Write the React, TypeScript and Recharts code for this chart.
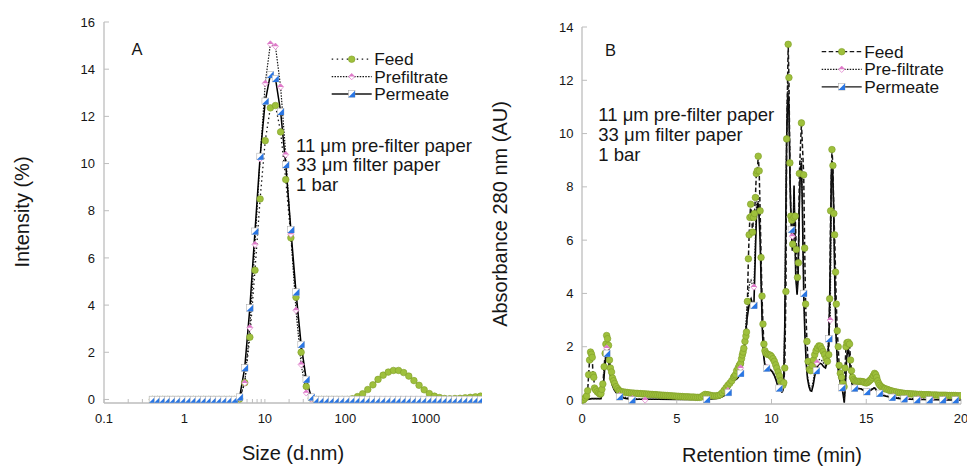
import React from 'react';
import { ComposedChart, Line, XAxis, YAxis } from 'recharts';

const FONT = '"Liberation Sans", Arial, Helvetica, sans-serif';
const GREEN = '#9ec03c';
const GREEN_EDGE = '#7f9e28';
const PINK = '#de78c8';
const BLUE = '#2a76e3';
const AXIS = '#bdbdbd';
const INK = '#161616';

// ---------------- Panel A : DLS size distribution ----------------
const sizesA = [
  0.4, 0.4632, 0.5365, 0.6213, 0.7195, 0.8332, 0.9649, 1.117, 1.294, 1.499,
  1.736, 2.01, 2.328, 2.696, 3.122, 3.615, 4.187, 4.849, 5.615, 6.503,
  7.531, 8.721, 10.1, 11.7, 13.54, 15.69, 18.17, 21.04, 24.36, 28.21,
  32.67, 37.84, 43.82, 50.75, 58.77, 68.06, 78.82, 91.28, 105.7, 122.4,
  141.8, 164.2, 190.1, 220.2, 255, 295.3, 342, 396.1, 458.7, 531.2,
  615.1, 712.4, 825, 955.4, 1106, 1281, 1484, 1718, 1990, 2305,
  2669, 3091, 3580, 4145, 4801,
];
const feedA = [
  0, 0, 0, 0, 0, 0, 0, 0, 0, 0,
  0, 0, 0, 0, 0, 0, 0, 0.02, 0.71, 2.64,
  5.48, 8.5, 10.97, 12.36, 12.46, 11.34, 9.32, 6.85, 4.33, 2.0,
  0.55, 0.05, 0, 0, 0, 0, 0, 0, 0, 0.03,
  0.12, 0.24, 0.42, 0.62, 0.85, 1.03, 1.16, 1.23, 1.23, 1.14,
  0.99, 0.8, 0.6, 0.41, 0.25, 0.14, 0.08, 0.04, 0.03, 0.04,
  0.05, 0.07, 0.09, 0.11, 0.14,
];
const prefiltrateA = [
  0, 0, 0, 0, 0, 0, 0, 0, 0, 0,
  0, 0, 0, 0, 0, 0, 0, 0.05, 0.7, 3.04,
  6.57, 10.2, 13.4, 15.07, 14.97, 13.25, 10.38, 7.0, 3.78, 1.48,
  0.28, 0.02, 0, 0, 0, 0, 0, 0, 0, 0,
  0, 0, 0, 0, 0, 0, 0, 0, 0, 0,
  0, 0, 0, 0, 0, 0, 0, 0, 0, 0,
  0, 0, 0, 0, 0,
];
const permeateA = [
  0, 0, 0, 0, 0, 0, 0, 0, 0, 0,
  0, 0, 0, 0, 0, 0, 0, 0.1, 1.34, 3.88,
  7.13, 10.3, 12.64, 13.77, 13.6, 12.2, 9.95, 7.2, 4.55, 2.33,
  0.85, 0.1, 0, 0, 0, 0, 0, 0, 0, 0,
  0, 0, 0, 0, 0, 0, 0, 0, 0, 0,
  0, 0, 0, 0, 0, 0, 0, 0, 0, 0,
  0, 0, 0, 0, 0,
];
const majorTicksAX = [0.1, 1, 10, 100, 1000];
const minorTicksAX = [
  0.2, 0.3, 0.4, 0.5, 0.6, 0.7, 0.8, 0.9,
  2, 3, 4, 5, 6, 7, 8, 9,
  20, 30, 40, 50, 60, 70, 80, 90,
  200, 300, 400, 500, 600, 700, 800, 900,
  2000, 3000, 4000,
];
const ticksAY = [0, 2, 4, 6, 8, 10, 12, 14, 16];

// ---------------- Panel B : chromatogram (time min, absorbance AU) ----------------
const feedB: [number, number][] = [
  [0, 0], [0.05, 0], [0.1, 0.02], [0.17, 0.08], [0.24, 0.15], [0.3, 0.35], [0.35, 0.95], [0.4, 1.5],
  [0.45, 1.8], [0.5, 1.72], [0.54, 1.6], [0.58, 0.95], [0.62, 0.85], [0.66, 0.45], [0.72, 0.38],
  [0.8, 0.31], [0.88, 0.26], [0.95, 0.22], [1.0, 0.24], [1.05, 0.4], [1.1, 0.6], [1.17, 1.25],
  [1.22, 1.75], [1.26, 2.1], [1.3, 2.42], [1.35, 2.3], [1.4, 2.05], [1.45, 1.5], [1.5, 1.2],
  [1.56, 1.05], [1.61, 0.82], [1.66, 0.72], [1.72, 0.62], [1.8, 0.5], [1.88, 0.42], [1.95, 0.36],
  [2.0, 0.33], [2.1, 0.31], [2.2, 0.3], [2.3, 0.29], [2.4, 0.28], [2.5, 0.27], [2.6, 0.26],
  [2.7, 0.26], [2.8, 0.25], [2.9, 0.25], [3.0, 0.24], [3.1, 0.24], [3.2, 0.23], [3.3, 0.23],
  [3.4, 0.22], [3.5, 0.22], [3.6, 0.21], [3.7, 0.21], [3.8, 0.2], [3.9, 0.2], [4.0, 0.19],
  [4.1, 0.19], [4.2, 0.18], [4.3, 0.18], [4.4, 0.17], [4.5, 0.17], [4.6, 0.16], [4.7, 0.16],
  [4.8, 0.15], [4.9, 0.15], [5.0, 0.14], [5.1, 0.14], [5.2, 0.13], [5.3, 0.13], [5.4, 0.12],
  [5.5, 0.12], [5.6, 0.12], [5.7, 0.11], [5.8, 0.11], [5.9, 0.11], [6.0, 0.1], [6.1, 0.1],
  [6.2, 0.1], [6.3, 0.11], [6.4, 0.17], [6.5, 0.21], [6.6, 0.2], [6.7, 0.19], [6.8, 0.17],
  [6.9, 0.16], [7.0, 0.15], [7.1, 0.16], [7.2, 0.17], [7.3, 0.2], [7.4, 0.27], [7.5, 0.36],
  [7.6, 0.46], [7.7, 0.55], [7.8, 0.63], [7.9, 0.72], [8.0, 0.85], [8.05, 0.9], [8.1, 0.95],
  [8.16, 1.1], [8.24, 1.2], [8.3, 1.3], [8.37, 1.38], [8.42, 1.55], [8.46, 1.69], [8.5, 1.8],
  [8.54, 1.94], [8.6, 2.2], [8.65, 2.4], [8.68, 2.55], [8.73, 3.7], [8.78, 5.3], [8.82, 6.2],
  [8.86, 6.85], [8.9, 7.35], [8.95, 6.9], [9.0, 6.3], [9.05, 6.85], [9.1, 7.0], [9.15, 7.6],
  [9.2, 8.5], [9.25, 8.6], [9.3, 9.15], [9.35, 8.6], [9.4, 7.1], [9.45, 5.35], [9.5, 3.9],
  [9.55, 2.85], [9.6, 2.1], [9.65, 1.85], [9.7, 1.76], [9.78, 1.72], [9.86, 1.7], [9.94, 1.68],
  [10.0, 1.63], [10.08, 1.55], [10.15, 1.45], [10.22, 1.32], [10.28, 1.2], [10.35, 1.05],
  [10.42, 0.9], [10.48, 0.72], [10.54, 0.6], [10.6, 0.55], [10.65, 0.65], [10.7, 1.2],
  [10.76, 4.07], [10.8, 9.8], [10.88, 13.35], [10.92, 12.1], [10.97, 8.9], [11.02, 6.9],
  [11.07, 6.75], [11.12, 5.85], [11.18, 6.85], [11.25, 6.9], [11.31, 5.65], [11.37, 4.6],
  [11.42, 5.15], [11.47, 8.5], [11.58, 10.4], [11.7, 8.45], [11.75, 5.7], [11.8, 3.6],
  [11.87, 2.2], [11.93, 1.45], [12.0, 1.15], [12.07, 1.1], [12.15, 1.3], [12.22, 1.5],
  [12.28, 1.7], [12.35, 1.85], [12.42, 1.95], [12.5, 2.03], [12.58, 2.02], [12.65, 1.92],
  [12.72, 1.82], [12.8, 1.7], [12.88, 1.55], [12.95, 1.45], [13.02, 1.7], [13.07, 3.8],
  [13.12, 7.1], [13.19, 9.4], [13.24, 8.8], [13.29, 7.0], [13.33, 6.2], [13.38, 4.8],
  [13.42, 3.6], [13.47, 2.6], [13.52, 2.0], [13.57, 1.3], [13.63, 1.0], [13.7, 0.85],
  [13.77, 0.62], [13.83, 0.5], [13.88, 1.2], [13.93, 2.0], [13.98, 2.15], [14.05, 2.17],
  [14.12, 2.1], [14.17, 1.5], [14.22, 1.1], [14.27, 0.85], [14.33, 0.76], [14.4, 0.72],
  [14.47, 0.7], [14.55, 0.7], [14.62, 0.7], [14.7, 0.7], [14.78, 0.69], [14.85, 0.68],
  [14.92, 0.66], [15.0, 0.64], [15.07, 0.66], [15.14, 0.7], [15.2, 0.74], [15.26, 0.78],
  [15.32, 0.84], [15.38, 0.92], [15.44, 1.0], [15.5, 0.95], [15.55, 0.85], [15.6, 0.72],
  [15.66, 0.62], [15.72, 0.55], [15.8, 0.5], [15.88, 0.46], [15.95, 0.43], [16.0, 0.42],
  [16.1, 0.4], [16.2, 0.37], [16.3, 0.35], [16.4, 0.33], [16.5, 0.31], [16.6, 0.3],
  [16.7, 0.28], [16.8, 0.27], [16.9, 0.26], [17.0, 0.25], [17.1, 0.24], [17.2, 0.24],
  [17.3, 0.23], [17.4, 0.23], [17.5, 0.22], [17.6, 0.22], [17.7, 0.21], [17.8, 0.21],
  [17.9, 0.21], [18.0, 0.2], [18.1, 0.2], [18.2, 0.2], [18.3, 0.2], [18.4, 0.19], [18.5, 0.19],
  [18.6, 0.19], [18.7, 0.19], [18.8, 0.18], [18.9, 0.18], [19.0, 0.18], [19.1, 0.18],
  [19.2, 0.18], [19.3, 0.17], [19.4, 0.17], [19.5, 0.17], [19.6, 0.17], [19.7, 0.17],
  [19.8, 0.16], [19.9, 0.16], [20.0, 0.16],
];

const prefiltrateB: [number, number][] = [
  [0, 0], [0.3, 0.02], [0.5, 0.05], [0.65, 0.05], [1.0, 0.05], [1.1, 0.35], [1.2, 1.4], [1.28, 1.9],
  [1.33, 1.95], [1.4, 1.65], [1.5, 1.0], [1.6, 0.6], [1.7, 0.4], [1.8, 0.3], [1.98, 0.16],
  [2.3, 0.1], [2.66, 0.05], [3.33, 0.02], [4.0, 0.03], [5.0, 0.03], [6.0, 0.03], [6.3, 0.04],
  [6.45, 0.1], [6.6, 0.08], [7.0, 0.06], [7.2, 0.08], [7.4, 0.16], [7.6, 0.27], [7.7, 0.35],
  [7.82, 0.62], [7.9, 0.9], [7.96, 0.88], [8.05, 0.8], [8.15, 0.85], [8.25, 0.95], [8.37, 1.2],
  [8.47, 1.5], [8.55, 2.0], [8.62, 2.6], [8.7, 3.4], [8.78, 4.0], [8.85, 4.4], [8.92, 4.5],
  [9.0, 4.3], [9.07, 4.24], [9.13, 5.6], [9.2, 7.2], [9.27, 7.7], [9.32, 7.5], [9.4, 6.2],
  [9.46, 4.3], [9.52, 2.7], [9.58, 1.8], [9.65, 1.35], [9.75, 1.22], [9.85, 1.18], [9.95, 1.15],
  [10.05, 1.08], [10.15, 0.95], [10.25, 0.75], [10.32, 0.58], [10.42, 0.46], [10.48, 0.38],
  [10.55, 0.32], [10.6, 0.38], [10.65, 0.95], [10.7, 3.0], [10.75, 6.8], [10.8, 10.2],
  [10.86, 12.0], [10.92, 11.4], [10.97, 8.8], [11.02, 7.0], [11.06, 6.5], [11.1, 6.15],
  [11.15, 6.6], [11.19, 7.9], [11.23, 6.4], [11.28, 4.7], [11.35, 4.1], [11.4, 4.6],
  [11.46, 7.2], [11.52, 8.8], [11.58, 9.1], [11.63, 7.4], [11.7, 4.2], [11.76, 2.6],
  [11.83, 1.5], [11.9, 0.9], [11.98, 0.6], [12.05, 0.45], [12.12, 0.45], [12.2, 0.7],
  [12.28, 1.05], [12.4, 1.4], [12.48, 1.5], [12.55, 1.52], [12.65, 1.48], [12.75, 1.38],
  [12.85, 1.3], [12.95, 1.6], [13.03, 2.5], [13.1, 3.0], [13.13, 5.5], [13.16, 8.7],
  [13.21, 9.0], [13.27, 7.6], [13.34, 4.6], [13.4, 2.6], [13.48, 1.45], [13.56, 0.95],
  [13.65, 0.62], [13.75, 0.45], [13.8, 0.2], [13.84, -0.05], [13.9, 0.65], [13.97, 1.7],
  [14.04, 2.0], [14.1, 1.75], [14.17, 1.05], [14.25, 0.62], [14.42, 0.45], [14.7, 0.44],
  [14.9, 0.37], [15.07, 0.32], [15.2, 0.36], [15.35, 0.44], [15.45, 0.47], [15.55, 0.37],
  [15.75, 0.25], [15.9, 0.19], [16.1, 0.15], [16.42, 0.12], [16.7, 0.09], [17.1, 0.06],
  [17.75, 0.04], [18.42, 0.03], [19.1, 0.02], [19.75, 0.02], [20.0, 0.02],
];

const permeateB: [number, number][] = [
  [0, 0], [0.3, 0.02], [0.5, 0.05], [0.65, 0.05], [0.8, 0.05], [1.0, 0.05], [1.1, 0.3], [1.2, 1.2],
  [1.28, 1.7], [1.33, 1.75], [1.4, 1.5], [1.5, 0.9], [1.6, 0.55], [1.7, 0.38], [1.8, 0.28],
  [1.98, 0.12], [2.3, 0.06], [2.64, 0.02], [3.0, 0.03], [3.5, 0.03], [4.0, 0.03], [5.0, 0.02],
  [6.0, 0.02], [6.3, 0.03], [6.45, 0.06], [6.58, 0.03], [6.8, 0.04], [7.0, 0.05], [7.2, 0.07],
  [7.4, 0.12], [7.6, 0.2], [7.72, 0.28], [7.82, 0.6], [7.9, 0.9], [7.96, 0.85], [8.05, 0.75],
  [8.15, 0.78], [8.25, 0.85], [8.37, 1.0], [8.47, 1.3], [8.55, 1.8], [8.62, 2.4], [8.7, 3.0],
  [8.78, 3.4], [8.85, 3.7], [8.92, 3.8], [9.0, 3.6], [9.07, 3.55], [9.13, 5.0], [9.2, 6.8],
  [9.27, 7.4], [9.32, 7.3], [9.4, 6.0], [9.46, 4.2], [9.52, 2.6], [9.58, 1.7], [9.65, 1.3],
  [9.74, 1.19], [9.85, 1.15], [9.95, 1.12], [10.05, 1.05], [10.15, 0.92], [10.25, 0.72],
  [10.32, 0.55], [10.4, 0.44], [10.48, 0.35], [10.55, 0.3], [10.6, 0.35], [10.65, 0.9],
  [10.7, 2.8], [10.75, 6.5], [10.8, 9.8], [10.86, 11.5], [10.92, 11.0], [10.97, 8.5],
  [11.02, 7.0], [11.05, 6.4], [11.1, 5.6], [11.15, 6.5], [11.19, 8.05], [11.23, 6.5],
  [11.28, 4.6], [11.35, 3.95], [11.4, 4.5], [11.46, 7.0], [11.52, 8.6], [11.58, 8.9],
  [11.63, 7.2], [11.7, 4.0], [11.76, 2.5], [11.83, 1.4], [11.9, 0.8], [11.98, 0.5],
  [12.05, 0.35], [12.12, 0.33], [12.2, 0.55], [12.28, 0.9], [12.37, 1.1], [12.45, 1.3],
  [12.55, 1.38], [12.65, 1.35], [12.75, 1.25], [12.85, 1.2], [12.95, 1.45], [13.03, 2.3],
  [13.1, 5.0], [13.16, 8.5], [13.21, 8.9], [13.27, 7.5], [13.34, 4.5], [13.4, 2.5],
  [13.48, 1.4], [13.56, 0.9], [13.65, 0.6], [13.72, 0.46], [13.78, 0.2], [13.84, -0.1],
  [13.9, 0.6], [13.97, 1.6], [14.04, 1.95], [14.1, 1.7], [14.17, 1.0], [14.25, 0.6],
  [14.38, 0.44], [14.5, 0.42], [14.7, 0.42], [14.9, 0.35], [15.03, 0.31], [15.2, 0.35],
  [15.35, 0.42], [15.45, 0.45], [15.55, 0.35], [15.7, 0.25], [15.9, 0.17], [16.1, 0.13],
  [16.37, 0.1], [16.7, 0.06], [17.0, 0.04], [17.3, 0.03], [17.67, 0.02], [18.0, 0.02],
  [18.33, 0.01], [18.7, 0.01], [19.03, 0.0], [19.4, 0.0], [19.7, 0.0], [20.0, 0.0],
];

const prefiltrateMarksB: [number, number][] = [
  [1.3, 1.95], [1.98, 0.16], [2.66, 0.05], [3.33, 0.0], [7.7, 0.35], [8.37, 1.2], [9.07, 4.24],
  [9.75, 1.22], [10.42, 0.46], [11.1, 6.15], [12.4, 1.4], [13.1, 3.0], [13.75, 0.45],
  [14.42, 0.45], [15.07, 0.32], [15.75, 0.25], [16.42, 0.12], [17.1, 0.06], [17.75, 0.04],
  [18.42, 0.03], [19.1, 0.02], [19.75, 0.02],
];
const permeateMarksB: [number, number][] = [
  [1.31, 1.75], [1.98, 0.12], [2.64, 0.0], [6.58, 0.02], [7.72, 0.28], [8.37, 1.0], [9.07, 3.55],
  [9.74, 1.19], [10.4, 0.44], [11.05, 6.4], [11.7, 4.0], [12.37, 1.1], [13.03, 2.3],
  [13.72, 0.46], [14.38, 0.44], [15.03, 0.31], [15.7, 0.25], [16.37, 0.1], [17.0, 0.04],
  [17.67, 0.0], [18.33, 0.0], [19.03, 0.0], [19.7, 0.0],
];
const ticksBX = [0, 5, 10, 15, 20];
const ticksBY = [0, 2, 4, 6, 8, 10, 12, 14];

// ---------------- markers ----------------
type P = { cx: number; cy: number };
const Circ = ({ cx, cy }: P) => (
  <circle cx={cx} cy={cy} r={3.3} fill={GREEN} stroke={GREEN_EDGE} strokeWidth={0.6} />
);
const Diam = ({ cx, cy }: P) => {
  const w = 3, h = 3.2;
  return (
    <g>
      <path d={`M${cx},${cy - h}L${cx + w},${cy}L${cx},${cy + h}L${cx - w},${cy}Z`} fill="#fff" stroke={PINK} strokeWidth={0.7} />
      <path d={`M${cx},${cy - h}L${cx + w},${cy}L${cx - w},${cy}Z`} fill={PINK} />
    </g>
  );
};
const Sq = ({ cx, cy }: P) => {
  const s = 3.3;
  return (
    <g>
      <rect x={cx - s} y={cy - s} width={2 * s} height={2 * s} fill="#fff" stroke="#a4a4a4" strokeWidth={0.5} />
      <path d={`M${cx - s},${cy + s}L${cx + s},${cy - s}L${cx + s},${cy + s}Z`} fill={BLUE} />
    </g>
  );
};
const dotOf = (Shape: (p: P) => React.ReactElement, prefix: string) => (p: any) => {
  const k = `${prefix}-${p.index}`;
  if (p.cx == null || p.cy == null || isNaN(p.cx) || isNaN(p.cy)) return <g key={k} />;
  return <g key={k}><Shape cx={p.cx} cy={p.cy} /></g>;
};

const toPts = (arr: [number, number][]) => arr.map(([t, v]) => ({ t, v }));

const dataA = sizesA.map((s, i) => ({
  size: s,
  feed: feedA[i],
  prefiltrate: prefiltrateA[i],
  permeate: permeateA[i],
}));

const tickStyle = { fill: INK, fontSize: 13 };
const noTick = () => <g />;

function LegendRow({ x, y, label, dash, Shape }: { x: number; y: number; label: string; dash?: string; Shape: (p: P) => React.ReactElement }) {
  return (
    <g>
      <line x1={x} x2={x + 40} y1={y} y2={y} stroke={INK} strokeWidth={1.3} strokeDasharray={dash} />
      <Shape cx={x + 20} cy={y} />
      <text x={x + 42.5} y={y + 6} fontSize={17.3} fill={INK}>{label}</text>
    </g>
  );
}

function PanelA() {
  const allTicks = [...majorTicksAX, ...minorTicksAX].sort((a, b) => a - b);
  return (
    <ComposedChart width={490} height={466} data={dataA} margin={{ top: 22, right: 8, bottom: 0, left: 0 }}>
      <XAxis
        dataKey="size" type="number" scale="log" domain={[0.1, 5000]} allowDataOverflow
        ticks={allTicks} interval={0}
        tickFormatter={(v: number) => (majorTicksAX.includes(v) ? String(v) : '')}
        height={63} tickSize={-4} tickMargin={15} tick={tickStyle}
        axisLine={{ stroke: AXIS, strokeWidth: 1.3 }} tickLine={{ stroke: AXIS }}
      />
      <XAxis
        xAxisId="top" orientation="top" dataKey="size" type="number" scale="log" domain={[0.1, 5000]} allowDataOverflow
        ticks={allTicks} interval={0} height={0} tickSize={-4} tick={noTick}
        axisLine={{ stroke: AXIS, strokeWidth: 1.3 }} tickLine={{ stroke: AXIS }}
      />
      <YAxis
        type="number" domain={[-0.15, 16]} ticks={ticksAY} interval={0} allowDataOverflow
        width={104} tickSize={-5} tickMargin={14} tick={tickStyle}
        axisLine={{ stroke: AXIS, strokeWidth: 1.3 }} tickLine={{ stroke: AXIS }}
      />
      <YAxis
        yAxisId="right" orientation="right" type="number" domain={[-0.15, 16]} ticks={ticksAY} interval={0} allowDataOverflow
        width={0} tickSize={-5} tick={noTick}
        axisLine={{ stroke: AXIS, strokeWidth: 1.3 }} tickLine={{ stroke: AXIS }}
      />
      <Line type="linear" dataKey="feed" stroke={INK} strokeWidth={1.3} strokeDasharray="1.5 3" dot={false} activeDot={false} isAnimationActive={false} />
      <Line type="linear" dataKey="prefiltrate" stroke={INK} strokeWidth={1.2} strokeDasharray="1.5 1.3" dot={false} activeDot={false} isAnimationActive={false} />
      <Line type="linear" dataKey="permeate" stroke="#000" strokeWidth={1.5} dot={false} activeDot={false} isAnimationActive={false} />
      <Line type="linear" dataKey="feed" stroke="none" dot={dotOf(Circ, 'fa')} activeDot={false} isAnimationActive={false} legendType="none" />
      <Line type="linear" dataKey="prefiltrate" stroke="none" dot={dotOf(Diam, 'pa')} activeDot={false} isAnimationActive={false} legendType="none" />
      <Line type="linear" dataKey="permeate" stroke="none" dot={dotOf(Sq, 'ma')} activeDot={false} isAnimationActive={false} legendType="none" />
    </ComposedChart>
  );
}

function PanelB() {
  const f = toPts(feedB);
  const pf = toPts(prefiltrateB);
  const pm = toPts(permeateB);
  const pfm = toPts(prefiltrateMarksB);
  const pmm = toPts(permeateMarksB);
  return (
    <ComposedChart width={477} height={466} margin={{ top: 27, right: 6, bottom: 0, left: 0 }}>
      <XAxis
        dataKey="t" type="number" domain={[0, 20]} ticks={ticksBX} interval={0} allowDataOverflow
        height={62} tickSize={-5} tickMargin={14.5} tick={tickStyle}
        axisLine={{ stroke: AXIS, strokeWidth: 1.3 }} tickLine={{ stroke: AXIS }}
      />
      <XAxis
        xAxisId="top" orientation="top" dataKey="t" type="number" domain={[0, 20]} ticks={ticksBX} interval={0} allowDataOverflow
        height={0} tickSize={-5} tick={noTick}
        axisLine={{ stroke: AXIS, strokeWidth: 1.3 }} tickLine={{ stroke: AXIS }}
      />
      <YAxis
        type="number" domain={[-0.15, 14]} ticks={ticksBY} interval={0} allowDataOverflow
        width={92} tickSize={-5} tickMargin={13.5} tick={tickStyle}
        axisLine={{ stroke: AXIS, strokeWidth: 1.3 }} tickLine={{ stroke: AXIS }}
      />
      <YAxis
        yAxisId="right" orientation="right" type="number" domain={[-0.15, 14]} ticks={ticksBY} interval={0} allowDataOverflow
        width={0} tickSize={-6} tick={noTick}
        axisLine={{ stroke: AXIS, strokeWidth: 1.3 }} tickLine={{ stroke: AXIS }}
      />
      <Line data={pm} type="linear" dataKey="v" name="Permeate" stroke="#000" strokeWidth={1.6} dot={false} activeDot={false} isAnimationActive={false} />
      <Line data={pf} type="linear" dataKey="v" name="Pre-filtrate" stroke={INK} strokeWidth={1.2} strokeDasharray="1.5 1.3" dot={false} activeDot={false} isAnimationActive={false} />
      <Line data={f} type="linear" dataKey="v" name="Feed" stroke={INK} strokeWidth={1.5} strokeDasharray="4.5 2.5" dot={false} activeDot={false} isAnimationActive={false} />
      <Line data={f} type="linear" dataKey="v" name="FeedM" stroke="none" dot={dotOf(Circ, 'fb')} activeDot={false} isAnimationActive={false} legendType="none" />
      <Line data={pfm} type="linear" dataKey="v" name="PfM" stroke="none" dot={dotOf(Diam, 'pb')} activeDot={false} isAnimationActive={false} legendType="none" />
      <Line data={pmm} type="linear" dataKey="v" name="PmM" stroke="none" dot={dotOf(Sq, 'mb')} activeDot={false} isAnimationActive={false} legendType="none" />
    </ComposedChart>
  );
}

export default function App() {
  return (
    <div style={{ position: 'absolute', left: 0, top: 0, width: 967, height: 466, overflow: 'hidden', background: '#fff', fontFamily: FONT }}>
      <div style={{ position: 'absolute', left: 0, top: 0 }}>
        <PanelA />
      </div>
      <div style={{ position: 'absolute', left: 490, top: 0 }}>
        <PanelB />
      </div>
      <svg width={967} height={466} style={{ position: 'absolute', left: 0, top: 0, pointerEvents: 'none' }} fontFamily={FONT}>
        {/* Panel A texts */}
        <text x={131.5} y={55} fontSize={16.5} fill={INK}>A</text>
        <LegendRow x={331.7} y={59.2} label="Feed" dash="1.5 3.5" Shape={Circ} />
        <LegendRow x={331.7} y={76.6} label="Prefiltrate" dash="1.5 1.3" Shape={Diam} />
        <LegendRow x={331.7} y={94} label="Permeate" Shape={Sq} />
        <text fontSize={18.5} fill={INK}>
          <tspan x={296} y={151.5}>11 μm pre-filter paper</tspan>
          <tspan x={296} y={171.3}>33 μm filter paper</tspan>
          <tspan x={296} y={191}>1 bar</tspan>
        </text>
        <text x={29} y={212} fontSize={20} fill={INK} textAnchor="middle" transform="rotate(-90 29 212)">Intensity (%)</text>
        <text x={293} y={459.5} fontSize={20} fill={INK} textAnchor="middle">Size (d.nm)</text>

        {/* Panel B texts */}
        <text x={605} y={56} fontSize={16.5} fill={INK}>B</text>
        <LegendRow x={821.7} y={51.7} label="Feed" dash="4.5 2.5" Shape={Circ} />
        <LegendRow x={821.7} y={69.3} label="Pre-filtrate" dash="1.5 1.3" Shape={Diam} />
        <LegendRow x={821.7} y={86.8} label="Permeate" Shape={Sq} />
        <text fontSize={18.5} fill={INK}>
          <tspan x={598.3} y={120.5}>11 μm pre-filter paper</tspan>
          <tspan x={598.3} y={140.5}>33 μm filter paper</tspan>
          <tspan x={598.3} y={160.5}>1 bar</tspan>
        </text>
        <text x={506.5} y={214} fontSize={20} fill={INK} textAnchor="middle" transform="rotate(-90 506.5 214)">Absorbance 280 nm (AU)</text>
        <text x={772} y={461.5} fontSize={20} fill={INK} textAnchor="middle">Retention time (min)</text>
      </svg>
    </div>
  );
}
